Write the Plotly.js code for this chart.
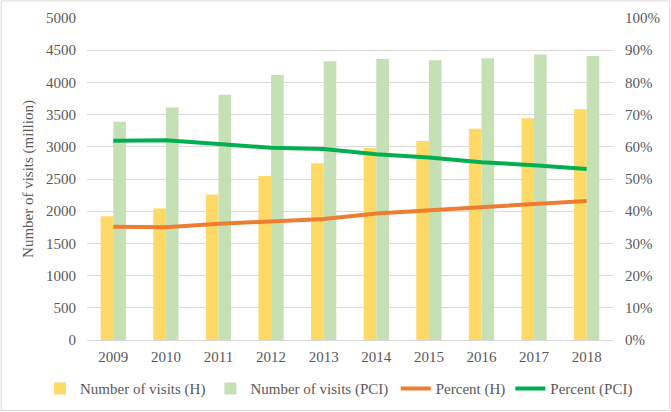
<!DOCTYPE html>
<html>
<head>
<meta charset="utf-8">
<script src="https://cdn.plot.ly/plotly-3.0.1.min.js"></script>
<style>html,body{margin:0;padding:0;background:#fff;}#chart{width:671px;height:412px;}</style>
</head>
<body>
<div id="chart"></div>
<script>
var years = ['2009','2010','2011','2012','2013','2014','2015','2016','2017','2018'];
var visitsH = [1920, 2040, 2260, 2545, 2745, 2980, 3090, 3280, 3445, 3585];
var visitsPCI = [3390, 3610, 3810, 4115, 4330, 4365, 4345, 4375, 4435, 4410];
var percentH = [0.352, 0.350, 0.361, 0.370, 0.376, 0.393, 0.402, 0.414, 0.422, 0.432];
var percentPCI = [0.619, 0.620, 0.609, 0.597, 0.593, 0.577, 0.567, 0.552, 0.543, 0.531];

var fontFam = 'Liberation Serif';
var gray = '#595959';

var traces = [
  {type:'bar', name:'Number of visits (H)', x:years, y:visitsH, marker:{color:'#FFD966'}, legend:'legend'},
  {type:'bar', name:'Number of visits (PCI)', x:years, y:visitsPCI, marker:{color:'#C5E0B4'}, legend:'legend'},
  {type:'scatter', mode:'lines', name:'Percent (H)', x:years, y:percentH, yaxis:'y2',
   line:{color:'#ED7D31', width:4}, legend:'legend2'},
  {type:'scatter', mode:'lines', name:'Percent (PCI)', x:years, y:percentPCI, yaxis:'y2',
   line:{color:'#00B050', width:4}, legend:'legend2'}
];

var legFont = {family:fontFam, size:15, color:gray};

var layout = {
  width:671, height:412,
  margin:{l:87, r:58, t:18, b:72, autoexpand:false},
  paper_bgcolor:'#fff', plot_bgcolor:'#fff',
  font:{family:fontFam, size:15, color:gray},
  barmode:'group', bargap:0.52, bargroupgap:0,
  showlegend:true,
  legend:{orientation:'h', x:-0.0894, xanchor:'left', y:-0.1, yanchor:'top',
          font:legFont, itemwidth:30, tracegroupgap:0, bgcolor:'rgba(0,0,0,0)'},
  legend2:{orientation:'h', x:0.587, xanchor:'left', y:-0.1, yanchor:'top',
          font:legFont, itemwidth:30, tracegroupgap:0, bgcolor:'rgba(0,0,0,0)'},
  xaxis:{type:'category', showgrid:false, showline:true, linecolor:'#D9D9D9', linewidth:1,
         ticks:'', ticklabelstandoff:3, tickfont:{family:fontFam, size:15, color:gray}, zeroline:false},
  yaxis:{range:[0,5000], dtick:500, showgrid:true, gridcolor:'#D9D9D9', gridwidth:1,
         zeroline:false, ticks:'', ticklabelstandoff:10, tickfont:{family:fontFam, size:15, color:gray},
         title:{text:'Number of visits (million)', font:{family:fontFam, size:15, color:gray}, standoff:8}},
  yaxis2:{range:[0,1], dtick:0.1, tickformat:'.0%', overlaying:'y', side:'right',
          showgrid:false, zeroline:false, ticks:'', ticklabelstandoff:11, tickfont:{family:fontFam, size:15, color:gray}},
  shapes:[{type:'rect', xref:'paper', yref:'paper', x0:-0.163, x1:1.108, y0:-0.219, y1:1.053,
           line:{color:'#D9D9D9', width:1}, fillcolor:'rgba(0,0,0,0)'}]
};

Plotly.newPlot('chart', traces, layout, {displayModeBar:false, staticPlot:true});
</script>
</body>
</html>
